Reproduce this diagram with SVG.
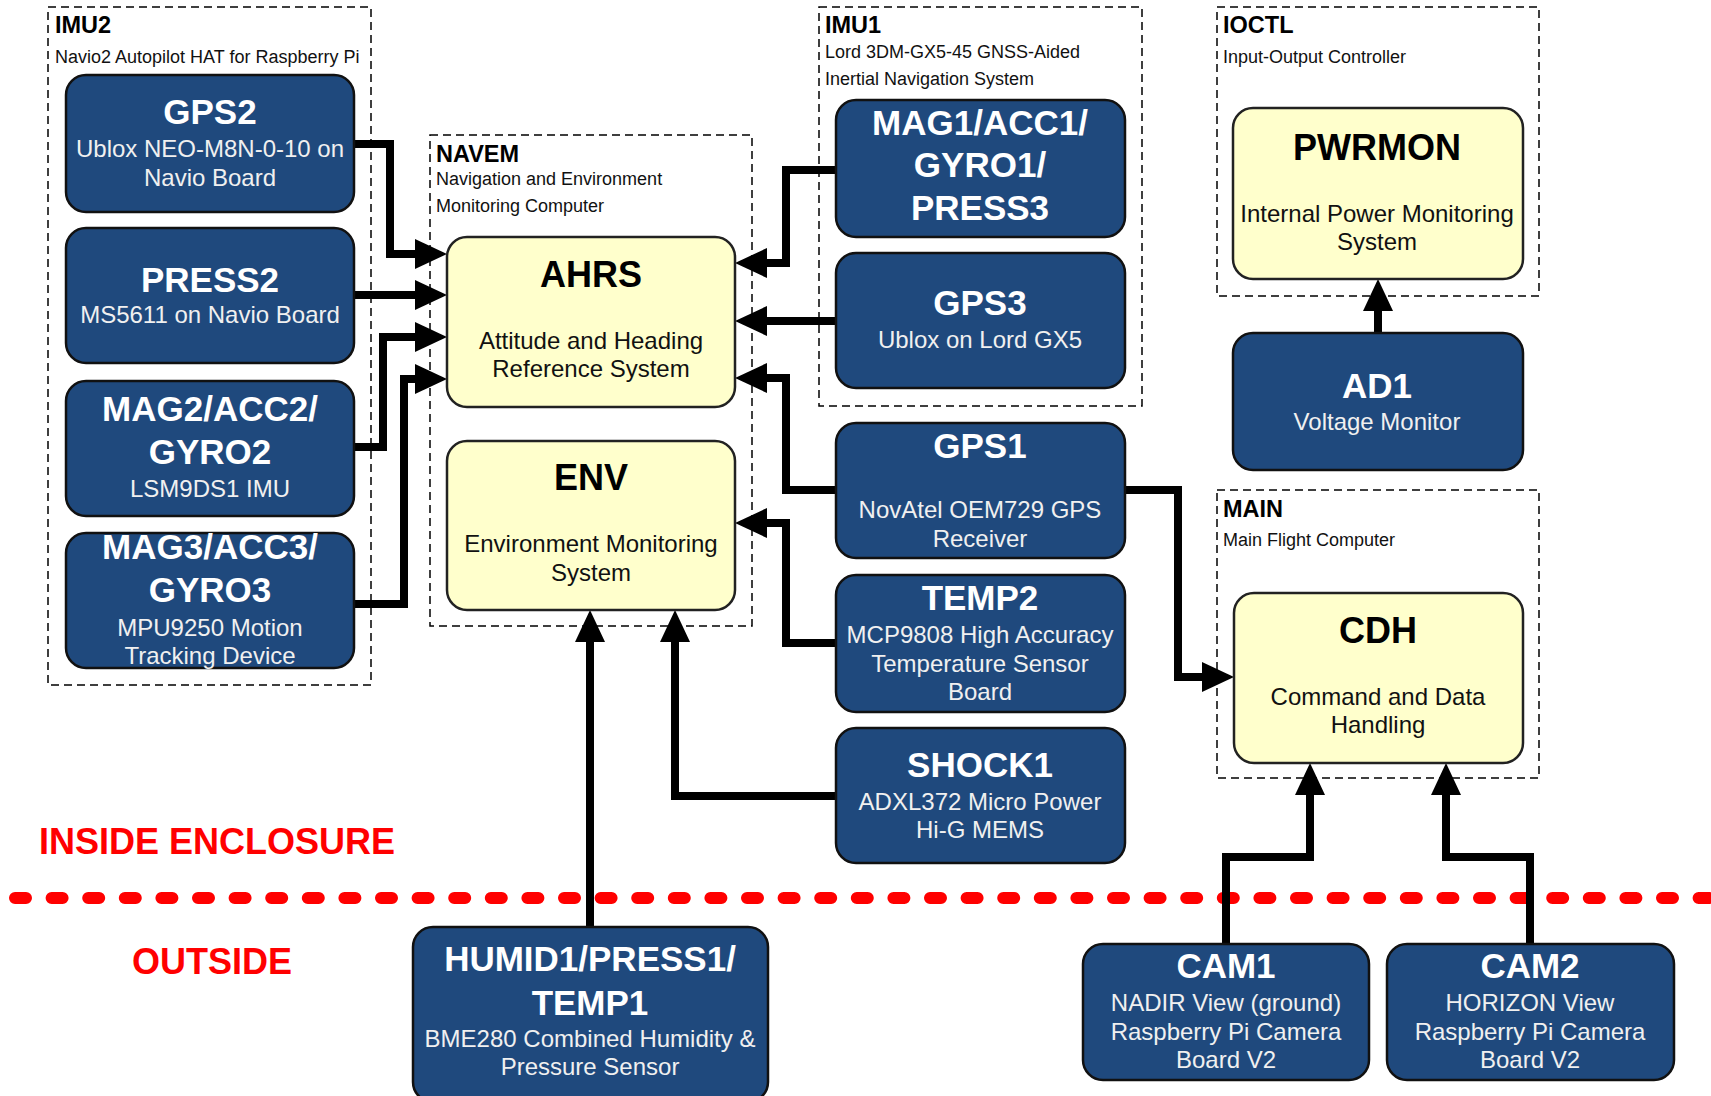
<svg xmlns="http://www.w3.org/2000/svg" width="1711" height="1096" viewBox="0 0 1711 1096">
<style>
.grp{fill:none;stroke:#000;stroke-width:1.5;stroke-dasharray:8 5}
.blue{fill:#1F497D;stroke:#111;stroke-width:2.5}
.yel{fill:#FFFFCC;stroke:#222;stroke-width:2.5}
.t{font-family:"Liberation Sans",Arial,sans-serif;text-anchor:middle}
.bt{font-weight:bold;font-size:35px;fill:#fff}
.bs{font-size:24px;fill:#f0f0f0}
.yt{font-weight:bold;font-size:36px;fill:#000}
.ys{font-size:24px;fill:#111}
.gl{font-family:"Liberation Sans",Arial,sans-serif;font-weight:bold;font-size:23.5px;fill:#000}
.gs{font-family:"Liberation Sans",Arial,sans-serif;font-size:18px;fill:#111}
.red{font-family:"Liberation Sans",Arial,sans-serif;font-weight:bold;font-size:36px;fill:#FF0000;text-anchor:middle}
.c{fill:none;stroke:#000;stroke-width:8;stroke-linejoin:miter}
</style>
<defs>
<marker id="ah" viewBox="0 0 32 30" refX="1" refY="15" markerWidth="32" markerHeight="30" markerUnits="userSpaceOnUse" orient="auto">
<path d="M0,0 L32,15 L0,30 z" fill="#000"/>
</marker>
</defs>
<rect width="1711" height="1096" fill="#fff"/>

<g id="groups">
<rect class="grp" x="48" y="7" width="323" height="678"/>
<text class="gl" x="55" y="33">IMU2</text>
<text class="gs" x="55" y="63">Navio2 Autopilot HAT for Raspberry Pi</text>
<rect class="grp" x="430" y="135" width="322" height="491"/>
<text class="gl" x="436" y="162">NAVEM</text>
<text class="gs" x="436" y="185">Navigation and Environment</text>
<text class="gs" x="436" y="212">Monitoring Computer</text>
<rect class="grp" x="819" y="7" width="323" height="399"/>
<text class="gl" x="825" y="33">IMU1</text>
<text class="gs" x="825" y="58">Lord 3DM-GX5-45 GNSS-Aided</text>
<text class="gs" x="825" y="85">Inertial Navigation System</text>
<rect class="grp" x="1217" y="7" width="322" height="289"/>
<text class="gl" x="1223" y="33">IOCTL</text>
<text class="gs" x="1223" y="63">Input-Output Controller</text>
<rect class="grp" x="1217" y="490" width="322" height="288"/>
<text class="gl" x="1223" y="517">MAIN</text>
<text class="gs" x="1223" y="546">Main Flight Computer</text>
</g>

<g id="boundary">
<line x1="15" y1="898" x2="1711" y2="898" stroke="#FF0000" stroke-width="12" stroke-linecap="round" stroke-dasharray="11 25.6"/>
<text class="red" x="217" y="854">INSIDE ENCLOSURE</text>
<text class="red" x="212" y="974">OUTSIDE</text>
</g>

<g id="connectors">
<path class="c" marker-end="url(#ah)" d="M354,144 H390 V254 H416"/>
<path class="c" marker-end="url(#ah)" d="M354,295 H416"/>
<path class="c" marker-end="url(#ah)" d="M354,447 H383 V337 H416"/>
<path class="c" marker-end="url(#ah)" d="M354,604 H404 V379 H416"/>
<path class="c" marker-end="url(#ah)" d="M836,170 H786 V263 H766"/>
<path class="c" marker-end="url(#ah)" d="M836,321 H766"/>
<path class="c" marker-end="url(#ah)" d="M836,490 H786 V378 H766"/>
<path class="c" marker-end="url(#ah)" d="M836,643 H786 V523 H766"/>
<path class="c" marker-end="url(#ah)" d="M836,796 H675 V641"/>
<path class="c" marker-end="url(#ah)" d="M590,927 V641"/>
<path class="c" marker-end="url(#ah)" d="M1125,490 H1178 V677 H1203"/>
<path class="c" marker-end="url(#ah)" d="M1226,944 V857 H1310 V794"/>
<path class="c" marker-end="url(#ah)" d="M1530,944 V857 H1446 V794"/>
<path class="c" marker-end="url(#ah)" d="M1378,333 V310"/>
</g>

<g id="GPS2">
<rect class="blue" x="66" y="75" width="288" height="137" rx="20"/>
<text class="t bt" x="210" y="124">GPS2</text>
<text class="t bs" x="210" y="157">Ublox NEO-M8N-0-10 on</text>
<text class="t bs" x="210" y="186">Navio Board</text>
</g>
<g id="PRESS2">
<rect class="blue" x="66" y="228" width="288" height="135" rx="20"/>
<text class="t bt" x="210" y="292">PRESS2</text>
<text class="t bs" x="210" y="323">MS5611 on Navio Board</text>
</g>
<g id="MAG2">
<rect class="blue" x="66" y="381" width="288" height="135" rx="20"/>
<text class="t bt" x="210" y="421">MAG2/ACC2/</text>
<text class="t bt" x="210" y="464">GYRO2</text>
<text class="t bs" x="210" y="497">LSM9DS1 IMU</text>
</g>
<g id="MAG3">
<rect class="blue" x="66" y="533" width="288" height="135" rx="20"/>
<text class="t bt" x="210" y="559">MAG3/ACC3/</text>
<text class="t bt" x="210" y="602">GYRO3</text>
<text class="t bs" x="210" y="636">MPU9250 Motion</text>
<text class="t bs" x="210" y="664">Tracking Device</text>
</g>

<g id="AHRS">
<rect class="yel" x="447" y="237" width="288" height="170" rx="20"/>
<text class="t yt" x="591" y="287">AHRS</text>
<text class="t ys" x="591" y="349">Attitude and Heading</text>
<text class="t ys" x="591" y="377">Reference System</text>
</g>
<g id="ENV">
<rect class="yel" x="447" y="441" width="288" height="169" rx="20"/>
<text class="t yt" x="591" y="490">ENV</text>
<text class="t ys" x="591" y="552">Environment Monitoring</text>
<text class="t ys" x="591" y="581">System</text>
</g>

<g id="MAG1">
<rect class="blue" x="836" y="100" width="289" height="137" rx="20"/>
<text class="t bt" x="980" y="135">MAG1/ACC1/</text>
<text class="t bt" x="980" y="177">GYRO1/</text>
<text class="t bt" x="980" y="220">PRESS3</text>
</g>
<g id="GPS3">
<rect class="blue" x="836" y="253" width="289" height="135" rx="20"/>
<text class="t bt" x="980" y="315">GPS3</text>
<text class="t bs" x="980" y="348">Ublox on Lord GX5</text>
</g>
<g id="GPS1">
<rect class="blue" x="836" y="423" width="289" height="135" rx="20"/>
<text class="t bt" x="980" y="458">GPS1</text>
<text class="t bs" x="980" y="518">NovAtel OEM729 GPS</text>
<text class="t bs" x="980" y="547">Receiver</text>
</g>
<g id="TEMP2">
<rect class="blue" x="836" y="575" width="289" height="137" rx="20"/>
<text class="t bt" x="980" y="610">TEMP2</text>
<text class="t bs" x="980" y="643">MCP9808 High Accuracy</text>
<text class="t bs" x="980" y="672">Temperature Sensor</text>
<text class="t bs" x="980" y="700">Board</text>
</g>
<g id="SHOCK1">
<rect class="blue" x="836" y="728" width="289" height="135" rx="20"/>
<text class="t bt" x="980" y="777">SHOCK1</text>
<text class="t bs" x="980" y="810">ADXL372 Micro Power</text>
<text class="t bs" x="980" y="838">Hi-G MEMS</text>
</g>

<g id="PWRMON">
<rect class="yel" x="1233" y="108" width="290" height="171" rx="20"/>
<text class="t yt" x="1377" y="160">PWRMON</text>
<text class="t ys" x="1377" y="222">Internal Power Monitoring</text>
<text class="t ys" x="1377" y="250">System</text>
</g>
<g id="AD1">
<rect class="blue" x="1233" y="333" width="290" height="137" rx="20"/>
<text class="t bt" x="1377" y="398">AD1</text>
<text class="t bs" x="1377" y="430">Voltage Monitor</text>
</g>
<g id="CDH">
<rect class="yel" x="1234" y="593" width="289" height="170" rx="20"/>
<text class="t yt" x="1378" y="643">CDH</text>
<text class="t ys" x="1378" y="705">Command and Data</text>
<text class="t ys" x="1378" y="733">Handling</text>
</g>

<g id="HUMID1">
<rect class="blue" x="413" y="927" width="355" height="175" rx="20"/>
<text class="t bt" x="590" y="971">HUMID1/PRESS1/</text>
<text class="t bt" x="590" y="1015">TEMP1</text>
<text class="t bs" x="590" y="1047">BME280 Combined Humidity &amp;</text>
<text class="t bs" x="590" y="1075">Pressure Sensor</text>
</g>
<g id="CAM1">
<rect class="blue" x="1083" y="944" width="286" height="136" rx="20"/>
<text class="t bt" x="1226" y="978">CAM1</text>
<text class="t bs" x="1226" y="1011">NADIR View (ground)</text>
<text class="t bs" x="1226" y="1040">Raspberry Pi Camera</text>
<text class="t bs" x="1226" y="1068">Board V2</text>
</g>
<g id="CAM2">
<rect class="blue" x="1387" y="944" width="287" height="136" rx="20"/>
<text class="t bt" x="1530" y="978">CAM2</text>
<text class="t bs" x="1530" y="1011">HORIZON View</text>
<text class="t bs" x="1530" y="1040">Raspberry Pi Camera</text>
<text class="t bs" x="1530" y="1068">Board V2</text>
</g>
</svg>
